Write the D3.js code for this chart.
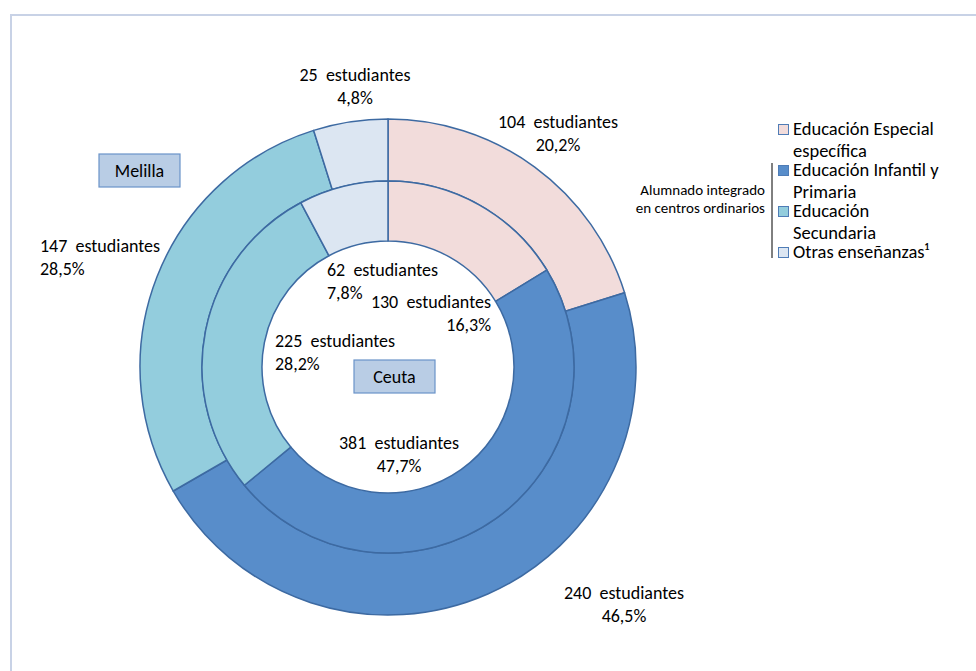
<!DOCTYPE html>
<html>
<head>
<meta charset="utf-8">
<script src="https://cdn.jsdelivr.net/npm/d3@7"></script>
<style>
  html, body { margin: 0; padding: 0; background: #fff; }
  svg { display: block; font-family: Carlito, Lato, "Open Sans", sans-serif; }
</style>
</head>
<body>
<svg id="chart" width="976" height="671"></svg>
<script>
// ---- data ----
const categories = ["Educación Especial específica", "Educación Infantil y Primaria", "Educación Secundaria", "Otras enseñanzas¹"];
const melillaValues = [104, 240, 147, 25];
const melillaPct = ["20,2%", "46,5%", "28,5%", "4,8%"];
const ceutaValues = [130, 381, 225, 62];
const ceutaPct = ["16,3%", "47,7%", "28,2%", "7,8%"];
const regionNames = ["Melilla", "Ceuta"];
const legendLines = [["Educación Especial", "específica"], ["Educación Infantil y", "Primaria"], ["Educación", "Secundaria"], ["Otras enseñanzas¹"]];
const bracketText = ["Alumnado integrado", "en centros ordinarios"];

// ---- layout / style ----
const W = 976, H = 671;
const cx = 388, cy = 367;
const rOuter = 248, rMid = 186, rInner = 126;
const colors = ["#f2dcdb", "#588dca", "#93cddd", "#dce6f2"];
const strokeCol = "#3d6aa2";
const fontSize = 18, lineH = 22.5;

const svg = d3.select("#chart");

// frame
svg.append("rect").attr("x", 11).attr("y", 15).attr("width", W + 20).attr("height", H + 20)
  .attr("fill", "none").attr("stroke", "#c8d2e6").attr("stroke-width", 2);

const color = d3.scaleOrdinal().domain(categories).range(colors);
const pie = d3.pie().sort(null).value(d => d.v);
const g = svg.append("g").attr("transform", `translate(${cx},${cy})`);

function ring(values, r0, r1) {
  const data = pie(values.map((v, i) => ({ v, c: categories[i] })));
  const arc = d3.arc().innerRadius(r0).outerRadius(r1);
  g.append("g").selectAll("path").data(data).join("path")
    .attr("d", arc)
    .attr("fill", d => color(d.data.c))
    .attr("stroke", strokeCol).attr("stroke-width", 1.5).attr("stroke-linejoin", "round");
}
ring(melillaValues, rMid, rOuter);
ring(ceutaValues, rInner, rMid);

// label placements (offsets from center of first baseline, anchor)
const outerPlace = [
  { x: 170, y: -239, a: "middle" },
  { x: 236, y: 232, a: "middle" },
  { x: -348, y: -115, a: "start" },
  { x: -33, y: -286, a: "middle" }
];
const innerPlace = [
  { x: 103, y: -59, a: "end" },
  { x: 11, y: 82, a: "middle" },
  { x: -113, y: -20, a: "start" },
  { x: -61, y: -91, a: "start" }
];
function labels(values, pcts, place) {
  values.forEach((v, i) => {
    const p = place[i];
    const t = g.append("text").attr("text-anchor", p.a).attr("font-size", fontSize).attr("fill", "#000");
    t.append("tspan").attr("x", p.x).attr("y", p.y).text(v + "\u00a0 estudiantes");
    t.append("tspan").attr("x", p.x).attr("y", p.y + lineH).text(pcts[i]);
  });
}
labels(melillaValues, melillaPct, outerPlace);
labels(ceutaValues, ceutaPct, innerPlace);

// region boxes
const boxes = [{ x: 99, y: 154 }, { x: 354, y: 360 }];
regionNames.forEach((n, i) => {
  const b = boxes[i];
  svg.append("rect").attr("x", b.x).attr("y", b.y).attr("width", 81).attr("height", 33)
    .attr("fill", "#b9cde5").attr("stroke", "#6a93c9").attr("stroke-width", 1.2);
  svg.append("text").attr("x", b.x + 40.5).attr("y", b.y + 23).attr("text-anchor", "middle")
    .attr("font-size", fontSize).attr("fill", "#000").text(n);
});

// legend
const lg = svg.append("g");
let ly = 124;
legendLines.forEach((lines, i) => {
  lg.append("rect").attr("x", 778.5).attr("y", ly + 0.5).attr("width", 10).attr("height", 10)
    .attr("fill", colors[i]).attr("stroke", "#4f7cb6").attr("stroke-width", 1);
  lines.forEach((l, j) => {
    lg.append("text").attr("x", 793).attr("y", ly + 11 + j * 21.5)
      .attr("font-size", 18.5).attr("fill", "#000").text(l);
  });
  ly += 41;
});

// bracket
svg.append("line").attr("x1", 772).attr("x2", 772).attr("y1", 163).attr("y2", 258)
  .attr("stroke", "#000").attr("stroke-width", 1);
bracketText.forEach((t, i) => {
  svg.append("text").attr("x", 765).attr("y", 195 + i * 18).attr("text-anchor", "end")
    .attr("font-size", 15).attr("fill", "#000").text(t);
});
</script>
</body>
</html>
